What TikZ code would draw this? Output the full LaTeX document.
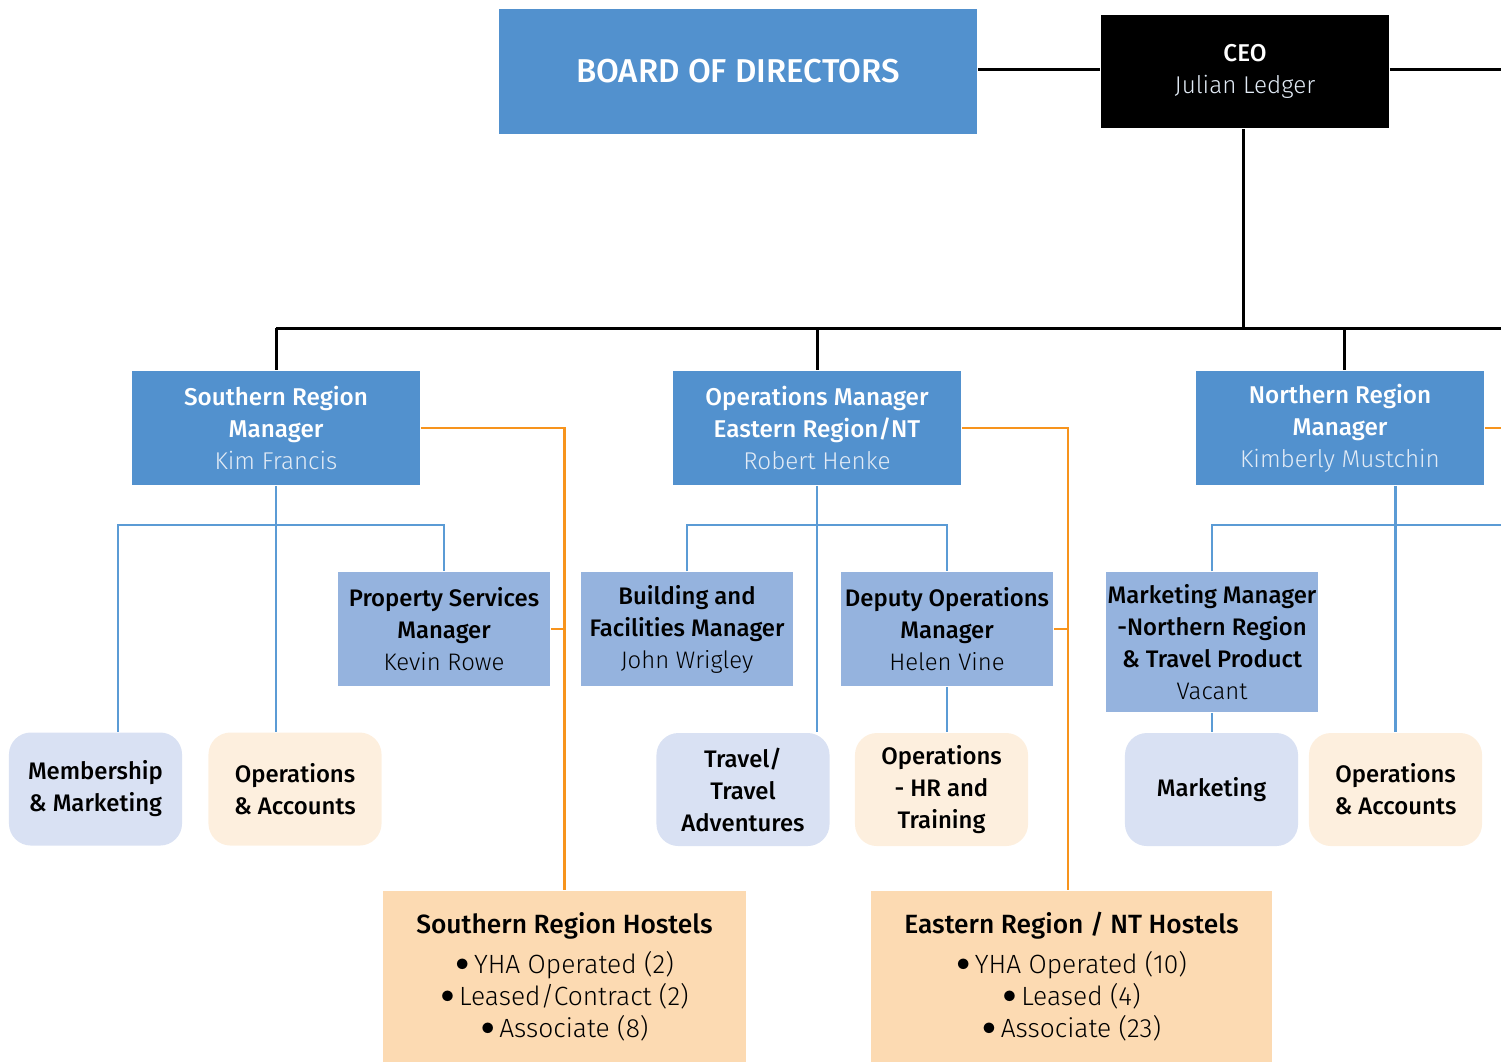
\documentclass[tikz,border=0pt]{standalone}
\usepackage{fontspec}
\setmainfont{Fira Sans}
\newfontfamily\namefont{Fira Sans Light}
\newfontfamily\headfont{Fira Sans Medium}
\usetikzlibrary{positioning}

\definecolor{regionblue}{RGB}{82,145,206}
\definecolor{mgrblue}{RGB}{149,179,222}
\definecolor{teamblue}{RGB}{217,225,243}
\definecolor{teampeach}{RGB}{253,239,222}
\definecolor{hostelpeach}{RGB}{252,218,178}
\definecolor{linkblue}{RGB}{91,155,213}
\definecolor{linkorange}{RGB}{247,148,29}
\definecolor{namewhite}{RGB}{226,235,246}

\newcommand{\who}[1]{{\namefont #1}}
\newcommand{\dotitem}[1]{{\namefont\raisebox{0.25ex}{$\bullet$}\,#1}}

\begin{document}
\begin{tikzpicture}[x=0.01cm, y=-0.01cm,
        every node/.style={inner sep=0pt, align=center},
        boardbox/.style={rectangle, fill=regionblue, text=white,
                    minimum width=4.78cm, minimum height=1.25cm,
                    font=\headfont\fontsize{9.4}{12}\selectfont},
        ceobox/.style={rectangle, fill=black, text=white,
                    minimum width=2.88cm, minimum height=1.13cm,
                    font=\headfont\fontsize{6.9}{9.1}\selectfont},
        region/.style={rectangle, fill=regionblue, text=white,
                    minimum width=2.88cm, minimum height=1.14cm,
                    font=\headfont\fontsize{6.9}{9.1}\selectfont},
        mgr/.style={rectangle, fill=mgrblue, text=black,
                    minimum width=2.12cm, minimum height=1.14cm,
                    font=\headfont\fontsize{6.8}{9.1}\selectfont},
        team/.style={rectangle, rounded corners=0.22cm, text=black,
                    minimum width=1.73cm, minimum height=1.13cm,
                    font=\headfont\fontsize{6.8}{9.1}\selectfont},
        hostels/.style={rectangle, fill=hostelpeach, text=black,
                    minimum height=1.71cm,
                    font=\headfont\fontsize{7.5}{9.1}\selectfont},
        topline/.style={draw=black, line width=0.85pt},
        bluelink/.style={draw=linkblue, line width=0.8pt},
        orangelink/.style={draw=linkorange, line width=0.7pt}
    ]
    \useasboundingbox (0,0) rectangle (1501,1062);

    % top level
    \node[boardbox] (board) at (738,71.5) {BOARD OF DIRECTORS};
    \node[ceobox] (ceo) at (1245,71.5) {CEO\\ \textcolor{namewhite}{\who{Julian Ledger}}};

    % region managers
    \node[region] (south) at (276,428) {Southern Region\\ Manager\\ \textcolor{namewhite}{\who{Kim Francis}}};
    \node[region] (east) at (817,428) {Operations Manager\\ Eastern Region/NT\\ \textcolor{namewhite}{\who{Robert Henke}}};
    \node[region] (north) at (1340,428) {Northern Region\\ Manager\\ \textcolor{namewhite}{\who{Kimberly Mustchin}}};

    % managers
    \node[mgr] (property) at (444,629) {Property Services\\ Manager\\ \who{Kevin Rowe}};
    \node[mgr] (building) at (687,629) {Building and\\ Facilities Manager\\ \who{John Wrigley}};
    \node[mgr] (deputy) at (947,629) {Deputy Operations\\ Manager\\ \who{Helen Vine}};
    \node[mgr, minimum height=1.40cm] (marketmgr) at (1212,642) {Marketing Manager\\ -Northern Region\\ \& Travel Product\\ \who{Vacant}};

    % teams
    \node[team, fill=teamblue] (member) at (95.5,789) {Membership\\ \& Marketing};
    \node[team, fill=teampeach] (southops) at (295,789) {Operations\\ \& Accounts};
    \node[team, fill=teamblue] (travel) at (743,789.5) {Travel/\\ Travel\\ Adventures};
    \node[team, fill=teampeach] (hrops) at (941.5,789.5) {Operations\\ - HR and\\ Training};
    \node[team, fill=teamblue] (marketing) at (1211.5,789.5) {Marketing};
    \node[team, fill=teampeach] (northops) at (1395.5,789.5) {Operations\\ \& Accounts};

    % hostels
    \node[hostels, minimum width=3.63cm] (southhost) at (564.5,976.5)
        {Southern Region Hostels\\[2.4pt] \dotitem{YHA Operated (2)}\\ \dotitem{Leased/Contract (2)}\\ \dotitem{Associate (8)}};
    \node[hostels, minimum width=4.01cm] (easthost) at (1071.5,976.5)
        {Eastern Region / NT Hostels\\[2.4pt] \dotitem{YHA Operated (10)}\\ \dotitem{Leased (4)}\\ \dotitem{Associate (23)}};

    % free ends, drop points and bus levels
    \coordinate (edge) at (1501,69);
    \coordinate (bus) at (0,328);
    \coordinate (lowbus) at (0,525);
    \coordinate (ceodrop) at ([xshift=-0.02cm]ceo.south);
    \coordinate (northdrop) at ([xshift=0.04cm]north.north);
    \coordinate (memberdrop) at ([xshift=0.225cm]member.north);
    \coordinate (eastdrop) at ([xshift=-0.035cm]easthost.north);

    % black lines
    \draw[topline] (board.east |- edge) -- (ceo.west |- edge);
    \draw[topline] (ceo.east |- edge) -- (edge);
    \draw[topline] (ceodrop) -- (ceodrop |- bus);
    \draw[topline] (south.north |- bus) -- (bus -| edge);
    \draw[topline] (south.north |- bus) -- (south.north);
    \draw[topline] (east.north |- bus) -- (east.north);
    \draw[topline] (northdrop |- bus) -- (northdrop);

    % southern region
    \draw[bluelink] (south.south) -- (south.south |- southops.north);
    \draw[bluelink] (memberdrop) |- (property.north |- lowbus) -- (property.north);

    % eastern region
    \draw[bluelink] (east.south) -- (east.south |- travel.north);
    \draw[bluelink] (building.north) |- (deputy.north |- lowbus) -- (deputy.north);
    \draw[bluelink] (deputy.south) -- (deputy.south |- hrops.north);

    % northern region
    \draw[bluelink] (northops.north |- north.south) -- (northops.north);
    \draw[bluelink] (marketmgr.north) |- (lowbus -| edge);
    \draw[bluelink] (marketmgr.south) -- (marketmgr.south |- marketing.north);

    % hostel reporting
    \draw[orangelink] (south.east) -| (southhost.north);
    \draw[orangelink] (property.east) -- (property.east -| southhost.north);
    \draw[orangelink] (east.east) -| (eastdrop);
    \draw[orangelink] (deputy.east) -- (deputy.east -| eastdrop);
    \draw[orangelink] (north.east) -- (north.east -| edge);
\end{tikzpicture}
\end{document}
